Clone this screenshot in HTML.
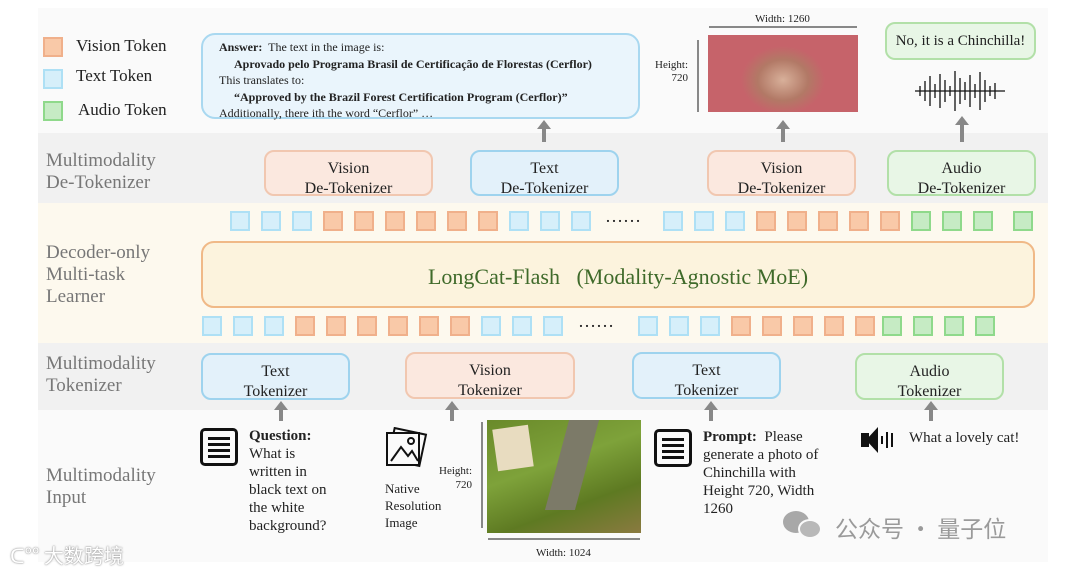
<!DOCTYPE html>
<html><head><meta charset="utf-8"><style>
body{margin:0;width:1080px;height:571px;background:#fff;position:relative;overflow:hidden;font-family:"Liberation Serif",serif;color:#222}
div{position:absolute;box-sizing:border-box}
.band{left:38px;width:1010px}
.lbl{color:#777;font-size:19px;line-height:22px;left:46px}
.box{border-radius:10px;border:2px solid;text-align:center;font-size:16px;line-height:20px;padding-top:7px}
.bl{background:#e3f1fa;border-color:#9ed3ee}
.or{background:#fbe8df;border-color:#f1c7b0}
.gr{background:#e8f6e6;border-color:#b2e0a8}
.sq{width:20px;height:20px;border:2px solid}
.t{background:#d6effa;border-color:#aee0f5}
.v{background:#f9c9a8;border-color:#f0b08b}
.a{background:#c6ebc4;border-color:#8fd98b}
.arr{width:4px;background:#888}
.arr:before{content:"";position:absolute;left:-5px;top:-8px;border-left:7px solid transparent;border-right:7px solid transparent;border-bottom:9px solid #888}
</style></head><body>
<div class="band" style="top:8px;height:125px;background:#fafafa"></div>
<div class="band" style="top:133px;height:70px;background:#f1f1f1"></div>
<div class="band" style="top:203px;height:140px;background:#fdf9ee"></div>
<div class="band" style="top:343px;height:67px;background:#f1f1f1"></div>
<div class="band" style="top:410px;height:152px;background:#fafafa"></div>

<!-- legend -->
<div class="sq v" style="left:43px;top:37px;width:20px;height:20px"></div>
<div style="left:76px;top:36px;font-size:17px">Vision Token</div>
<div class="sq t" style="left:43px;top:69px"></div>
<div style="left:76px;top:66px;font-size:17px">Text Token</div>
<div class="sq a" style="left:43px;top:101px"></div>
<div style="left:78px;top:100px;font-size:17px">Audio Token</div>

<!-- answer box -->
<div style="left:201px;top:33px;width:439px;height:86px;border:2px solid #a9d8f0;background:#eaf5fc;border-radius:14px;padding:4px 0 0 16px;font-size:12px;line-height:16.5px;white-space:nowrap">
<b>Answer:</b>&nbsp; The text in the image is:<br>
&nbsp;&nbsp;&nbsp;&nbsp;&nbsp;<b>Aprovado pelo Programa Brasil de Certificação de Florestas (Cerflor)</b><br>
This translates to:<br>
&nbsp;&nbsp;&nbsp;&nbsp;&nbsp;<b>“Approved by the Brazil Forest Certification Program (Cerflor)”</b><br>
Additionally, there ith the word “Cerflor” …</div>

<!-- hamster -->
<div style="left:708px;top:35px;width:150px;height:77px;background:radial-gradient(ellipse 42px 34px at 75px 45px,#d8b09a 0%,#b27966 60%,#c6636a 100%),#c6636a"></div>
<div style="left:755px;top:13px;font-size:11px">Width: 1260</div>
<div style="left:709px;top:26px;width:148px;height:2px;background:#888"></div>
<div style="left:648px;top:59px;font-size:11px;line-height:13px;text-align:right;width:40px">Height:<br>720</div>
<div style="left:697px;top:40px;width:2px;height:72px;background:#888"></div>

<!-- chinchilla -->
<div class="box gr" style="left:885px;top:22px;width:151px;height:38px;padding-top:7px;font-size:15px">No, it is a Chinchilla!</div>
<svg style="position:absolute;left:910px;top:66px" width="100" height="50"><g stroke="#111" stroke-width="1.3">
<path d="M5 25h90M10 20v10M15 15v20M20 10v30M25 18v14M30 8v34M35 14v22M40 20v10M45 5v40M50 12v26M55 16v18M60 9v32M65 18v14M70 6v38M75 14v22M80 20v10M85 17v16"/></g></svg>

<div class="arr" style="left:542px;top:128px;height:14px"></div>
<div class="arr" style="left:781px;top:128px;height:14px"></div>
<div class="arr" style="left:960px;top:124px;height:18px"></div>

<div class="lbl" style="top:150px">Multimodality<br>De-Tokenizer</div>
<div class="box or" style="left:264px;top:150px;width:169px;height:46px">Vision<br>De-Tokenizer</div>
<div class="box bl" style="left:470px;top:150px;width:149px;height:46px">Text<br>De-Tokenizer</div>
<div class="box or" style="left:707px;top:150px;width:149px;height:46px">Vision<br>De-Tokenizer</div>
<div class="box gr" style="left:887px;top:150px;width:149px;height:46px">Audio<br>De-Tokenizer</div>

<div class="lbl" style="top:242px">Decoder-only<br>Multi-task<br>Learner</div>
<div style="left:201px;top:241px;width:834px;height:67px;border:2px solid #f0b987;background:#fcf3dd;border-radius:13px;text-align:center;color:#3f6a2a;font-size:22px;padding-top:21px">LongCat-Flash &nbsp;&nbsp;(Modality-Agnostic MoE)</div>

<!-- top tokens -->
<div class="sq t" style="left:230px;top:211px"></div><div class="sq t" style="left:261px;top:211px"></div><div class="sq t" style="left:292px;top:211px"></div>
<div class="sq v" style="left:323px;top:211px"></div><div class="sq v" style="left:354px;top:211px"></div><div class="sq v" style="left:385px;top:211px"></div><div class="sq v" style="left:416px;top:211px"></div><div class="sq v" style="left:447px;top:211px"></div><div class="sq v" style="left:478px;top:211px"></div>
<div class="sq t" style="left:509px;top:211px"></div><div class="sq t" style="left:540px;top:211px"></div><div class="sq t" style="left:571px;top:211px"></div>
<div style="left:605px;top:206px;font-size:18px">……</div>
<div class="sq t" style="left:663px;top:211px"></div><div class="sq t" style="left:694px;top:211px"></div><div class="sq t" style="left:725px;top:211px"></div>
<div class="sq v" style="left:756px;top:211px"></div><div class="sq v" style="left:787px;top:211px"></div><div class="sq v" style="left:818px;top:211px"></div><div class="sq v" style="left:849px;top:211px"></div><div class="sq v" style="left:880px;top:211px"></div>
<div class="sq a" style="left:911px;top:211px"></div><div class="sq a" style="left:942px;top:211px"></div><div class="sq a" style="left:973px;top:211px"></div><div class="sq a" style="left:1013px;top:211px"></div>
<!-- bottom tokens -->
<div class="sq t" style="left:202px;top:316px"></div><div class="sq t" style="left:233px;top:316px"></div><div class="sq t" style="left:264px;top:316px"></div>
<div class="sq v" style="left:295px;top:316px"></div><div class="sq v" style="left:326px;top:316px"></div><div class="sq v" style="left:357px;top:316px"></div><div class="sq v" style="left:388px;top:316px"></div><div class="sq v" style="left:419px;top:316px"></div><div class="sq v" style="left:450px;top:316px"></div>
<div class="sq t" style="left:481px;top:316px"></div><div class="sq t" style="left:512px;top:316px"></div><div class="sq t" style="left:543px;top:316px"></div>
<div style="left:578px;top:311px;font-size:18px">……</div>
<div class="sq t" style="left:638px;top:316px"></div><div class="sq t" style="left:669px;top:316px"></div><div class="sq t" style="left:700px;top:316px"></div>
<div class="sq v" style="left:731px;top:316px"></div><div class="sq v" style="left:762px;top:316px"></div><div class="sq v" style="left:793px;top:316px"></div><div class="sq v" style="left:824px;top:316px"></div><div class="sq v" style="left:855px;top:316px"></div>
<div class="sq a" style="left:882px;top:316px"></div><div class="sq a" style="left:913px;top:316px"></div><div class="sq a" style="left:944px;top:316px"></div><div class="sq a" style="left:975px;top:316px"></div>

<div class="lbl" style="top:353px">Multimodality<br>Tokenizer</div>
<div class="box bl" style="left:201px;top:353px;width:149px;height:47px">Text<br>Tokenizer</div>
<div class="box or" style="left:405px;top:352px;width:170px;height:47px">Vision<br>Tokenizer</div>
<div class="box bl" style="left:632px;top:352px;width:149px;height:47px">Text<br>Tokenizer</div>
<div class="box gr" style="left:855px;top:353px;width:149px;height:47px">Audio<br>Tokenizer</div>

<div class="arr" style="left:279px;top:409px;height:12px"></div>
<div class="arr" style="left:450px;top:409px;height:12px"></div>
<div class="arr" style="left:709px;top:409px;height:12px"></div>
<div class="arr" style="left:929px;top:409px;height:12px"></div>

<div class="lbl" style="top:465px">Multimodality<br>Input</div>
<div style="left:200px;top:428px;width:38px;height:38px;border:3px solid #111;border-radius:5px"></div>
<div style="left:208px;top:437px;width:22px;height:3px;background:#111;box-shadow:0 6px 0 #111,0 12px 0 #111,0 18px 0 #111"></div>
<div style="left:654px;top:429px;width:38px;height:38px;border:3px solid #111;border-radius:5px"></div>
<div style="left:662px;top:438px;width:22px;height:3px;background:#111;box-shadow:0 6px 0 #111,0 12px 0 #111,0 18px 0 #111"></div>
<div style="left:249px;top:427px;font-size:15px;line-height:18px"><b>Question:</b><br>What is<br>written in<br>black text on<br>the white<br>background?</div>
<svg style="position:absolute;left:383px;top:427px" width="48" height="46"><g fill="none" stroke="#111" stroke-width="2"><rect x="8" y="4" width="32" height="32" transform="rotate(12 24 20)"/><rect x="4" y="6" width="32" height="32" fill="#fafafa"/><path d="M8 34l10-14 7 9 4-5 6 10"/><circle cx="28" cy="14" r="3"/></g></svg>
<div style="left:385px;top:480px;font-size:13px;line-height:17px">Native<br>Resolution<br>Image</div>
<div style="left:428px;top:464px;font-size:11px;line-height:14px;width:44px;text-align:right">Height:<br>720</div>
<div style="left:481px;top:422px;width:2px;height:106px;background:#888"></div>
<div style="left:487px;top:420px;width:154px;height:113px;background:linear-gradient(160deg,#6a8a2a 0%,#7ea23a 40%,#5e7a22 70%,#8a7a40 100%)"></div>
<div style="left:495px;top:427px;width:36px;height:42px;background:#e8dcc0;transform:rotate(-8deg)"></div>
<div style="left:557px;top:420px;width:30px;height:90px;background:#7c7a68;transform:skewX(-15deg)"></div>
<div style="left:488px;top:538px;width:152px;height:2px;background:#888"></div>
<div style="left:536px;top:547px;font-size:11px">Width: 1024</div>

<div style="left:703px;top:428px;font-size:15px;line-height:18px"><b>Prompt:</b>&nbsp; Please<br>generate a photo of<br>Chinchilla with<br>Height 720, Width<br>1260</div>
<div style="left:861px;top:433px;width:8px;height:14px;background:#111"></div>
<div style="left:866px;top:427px;width:0;height:0;border-top:13px solid transparent;border-bottom:13px solid transparent;border-right:12px solid #111"></div>
<div style="left:881px;top:436px;width:2px;height:8px;background:#111;box-shadow:5px -4px 0 #111,5px 4px 0 #111,10px 0 0 #111,10px -3px 0 #111,10px 3px 0 #111"></div>
<div style="left:909px;top:430px;font-size:15px">What a lovely cat!</div>

<div style="left:835px;top:510px;font-family:'Noto Sans CJK SC',sans-serif;font-size:23px;color:#9a9a9a">公众号 · 量子位</div>
<div style="left:783px;top:511px;width:26px;height:22px;border-radius:50%;background:#a8a8a8"></div>
<div style="left:798px;top:519px;width:24px;height:20px;border-radius:50%;background:#b8b8b8;border:2px solid #fafafa"></div>
<div style="left:10px;top:540px;font-family:'Noto Sans CJK SC',sans-serif;font-size:20px;color:#fff;text-shadow:0 0 2px #999,0 0 1px #888">ᑕ°° 大数跨境</div>
</body></html>
